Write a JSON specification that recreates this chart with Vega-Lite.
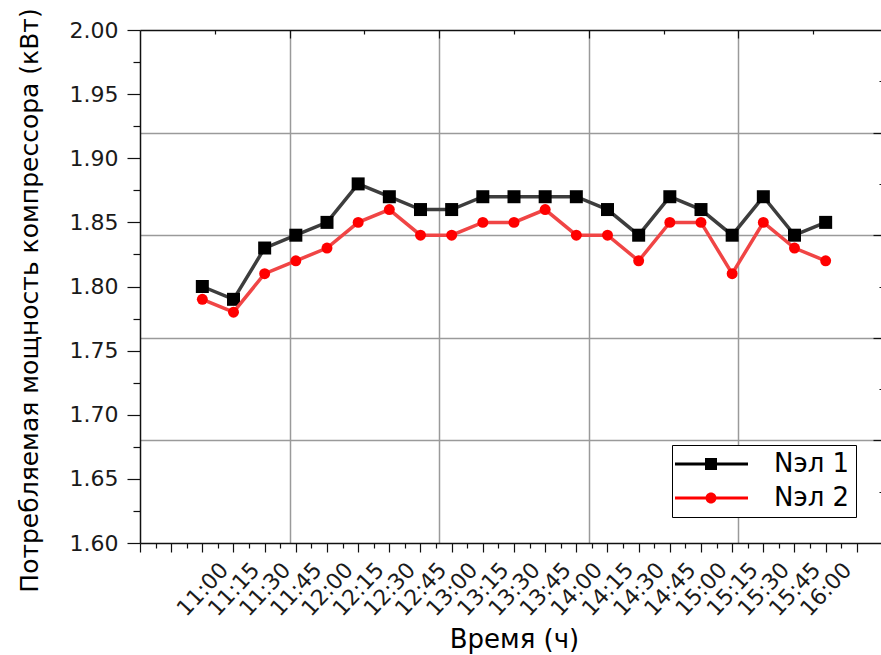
{
  "$schema": "https://vega.github.io/schema/vega-lite/v6.json",
  "width": 741,
  "height": 513,
  "autosize": {"type": "none"},
  "padding": {"left": 140, "top": 30, "right": 0, "bottom": 112},
  "background": "white",
  "config": {
    "view": {"stroke": null},
    "font": "DejaVu Sans",
    "axis": {
      "labelFont": "DejaVu Sans",
      "titleFont": "DejaVu Sans",
      "labelColor": "#1a1a1a",
      "titleColor": "#000000",
      "titleFontWeight": "normal",
      "tickColor": "#111111",
      "tickWidth": 1.2,
      "domainColor": "#111111",
      "domainWidth": 1.5
    }
  },
  "data": {
    "values": [
      {"t": "2012-01-01T11:00", "series": "Nэл 1", "p": 1.80},
      {"t": "2012-01-01T11:15", "series": "Nэл 1", "p": 1.79},
      {"t": "2012-01-01T11:30", "series": "Nэл 1", "p": 1.83},
      {"t": "2012-01-01T11:45", "series": "Nэл 1", "p": 1.84},
      {"t": "2012-01-01T12:00", "series": "Nэл 1", "p": 1.85},
      {"t": "2012-01-01T12:15", "series": "Nэл 1", "p": 1.88},
      {"t": "2012-01-01T12:30", "series": "Nэл 1", "p": 1.87},
      {"t": "2012-01-01T12:45", "series": "Nэл 1", "p": 1.86},
      {"t": "2012-01-01T13:00", "series": "Nэл 1", "p": 1.86},
      {"t": "2012-01-01T13:15", "series": "Nэл 1", "p": 1.87},
      {"t": "2012-01-01T13:30", "series": "Nэл 1", "p": 1.87},
      {"t": "2012-01-01T13:45", "series": "Nэл 1", "p": 1.87},
      {"t": "2012-01-01T14:00", "series": "Nэл 1", "p": 1.87},
      {"t": "2012-01-01T14:15", "series": "Nэл 1", "p": 1.86},
      {"t": "2012-01-01T14:30", "series": "Nэл 1", "p": 1.84},
      {"t": "2012-01-01T14:45", "series": "Nэл 1", "p": 1.87},
      {"t": "2012-01-01T15:00", "series": "Nэл 1", "p": 1.86},
      {"t": "2012-01-01T15:15", "series": "Nэл 1", "p": 1.84},
      {"t": "2012-01-01T15:30", "series": "Nэл 1", "p": 1.87},
      {"t": "2012-01-01T15:45", "series": "Nэл 1", "p": 1.84},
      {"t": "2012-01-01T16:00", "series": "Nэл 1", "p": 1.85},
      {"t": "2012-01-01T11:00", "series": "Nэл 2", "p": 1.79},
      {"t": "2012-01-01T11:15", "series": "Nэл 2", "p": 1.78},
      {"t": "2012-01-01T11:30", "series": "Nэл 2", "p": 1.81},
      {"t": "2012-01-01T11:45", "series": "Nэл 2", "p": 1.82},
      {"t": "2012-01-01T12:00", "series": "Nэл 2", "p": 1.83},
      {"t": "2012-01-01T12:15", "series": "Nэл 2", "p": 1.85},
      {"t": "2012-01-01T12:30", "series": "Nэл 2", "p": 1.86},
      {"t": "2012-01-01T12:45", "series": "Nэл 2", "p": 1.84},
      {"t": "2012-01-01T13:00", "series": "Nэл 2", "p": 1.84},
      {"t": "2012-01-01T13:15", "series": "Nэл 2", "p": 1.85},
      {"t": "2012-01-01T13:30", "series": "Nэл 2", "p": 1.85},
      {"t": "2012-01-01T13:45", "series": "Nэл 2", "p": 1.86},
      {"t": "2012-01-01T14:00", "series": "Nэл 2", "p": 1.84},
      {"t": "2012-01-01T14:15", "series": "Nэл 2", "p": 1.84},
      {"t": "2012-01-01T14:30", "series": "Nэл 2", "p": 1.82},
      {"t": "2012-01-01T14:45", "series": "Nэл 2", "p": 1.85},
      {"t": "2012-01-01T15:00", "series": "Nэл 2", "p": 1.85},
      {"t": "2012-01-01T15:15", "series": "Nэл 2", "p": 1.81},
      {"t": "2012-01-01T15:30", "series": "Nэл 2", "p": 1.85},
      {"t": "2012-01-01T15:45", "series": "Nэл 2", "p": 1.83},
      {"t": "2012-01-01T16:00", "series": "Nэл 2", "p": 1.82}
    ]
  },
  "resolve": {"axis": {"x": "independent", "y": "independent"}},
  "layer": [
    {
      "transform": [{"filter": "datum.series === 'Nэл 1'"}],
      "mark": {"type": "line", "color": "#3d3d3d", "strokeWidth": 3.5},
      "encoding": {
        "x": {
          "field": "t", "type": "temporal",
          "scale": {
            "domain": [
              {"year": 2012, "month": 1, "date": 1, "hours": 10, "minutes": 30},
              {"year": 2012, "month": 1, "date": 1, "hours": 16, "minutes": 26, "seconds": 38}
            ],
            "nice": false
          },
          "axis": {
            "orient": "bottom",
            "values": [
              {"year": 2012, "month": 1, "date": 1, "hours": 10, "minutes": 30},
              {"year": 2012, "month": 1, "date": 1, "hours": 10, "minutes": 45},
              {"year": 2012, "month": 1, "date": 1, "hours": 11, "minutes": 0},
              {"year": 2012, "month": 1, "date": 1, "hours": 11, "minutes": 15},
              {"year": 2012, "month": 1, "date": 1, "hours": 11, "minutes": 30},
              {"year": 2012, "month": 1, "date": 1, "hours": 11, "minutes": 45},
              {"year": 2012, "month": 1, "date": 1, "hours": 12, "minutes": 0},
              {"year": 2012, "month": 1, "date": 1, "hours": 12, "minutes": 15},
              {"year": 2012, "month": 1, "date": 1, "hours": 12, "minutes": 30},
              {"year": 2012, "month": 1, "date": 1, "hours": 12, "minutes": 45},
              {"year": 2012, "month": 1, "date": 1, "hours": 13, "minutes": 0},
              {"year": 2012, "month": 1, "date": 1, "hours": 13, "minutes": 15},
              {"year": 2012, "month": 1, "date": 1, "hours": 13, "minutes": 30},
              {"year": 2012, "month": 1, "date": 1, "hours": 13, "minutes": 45},
              {"year": 2012, "month": 1, "date": 1, "hours": 14, "minutes": 0},
              {"year": 2012, "month": 1, "date": 1, "hours": 14, "minutes": 15},
              {"year": 2012, "month": 1, "date": 1, "hours": 14, "minutes": 30},
              {"year": 2012, "month": 1, "date": 1, "hours": 14, "minutes": 45},
              {"year": 2012, "month": 1, "date": 1, "hours": 15, "minutes": 0},
              {"year": 2012, "month": 1, "date": 1, "hours": 15, "minutes": 15},
              {"year": 2012, "month": 1, "date": 1, "hours": 15, "minutes": 30},
              {"year": 2012, "month": 1, "date": 1, "hours": 15, "minutes": 45},
              {"year": 2012, "month": 1, "date": 1, "hours": 16, "minutes": 0},
              {"year": 2012, "month": 1, "date": 1, "hours": 16, "minutes": 15}
            ],
            "format": "%H:%M",
            "labelExpr": "datum.label === '10:30' || datum.label === '10:45' || datum.label === '16:15' ? '' : datum.label",
            "labelAngle": -47,
            "labelAlign": "center",
            "labelBaseline": "middle",
            "labelPadding": 37,
            "labelFontSize": 22,
            "labelOverlap": false,
            "labelFlush": false,
            "labelBound": false,
            "tickSize": 9,
            "grid": false,
            "title": "Время (ч)",
            "titleFontSize": 26,
            "titleY": 104,
            "titleX": 374,
            "titleBaseline": "alphabetic"
          }
        },
        "y": {
          "field": "p", "type": "quantitative",
          "scale": {"domain": [1.6, 2.0], "nice": false, "zero": false},
          "axis": {
            "orient": "left",
            "values": [1.6, 1.65, 1.7, 1.75, 1.8, 1.85, 1.9, 1.95, 2.0],
            "format": ".2f",
            "labelFontSize": 22,
            "labelPadding": 9,
            "tickSize": 13,
            "grid": false,
            "title": "Потребляемая мощность  компрессора (кВт)",
            "titleFontSize": 25,
            "titleAngle": -90,
            "titleAlign": "center",
            "titleBaseline": "alphabetic",
            "titleX": -103,
            "titleY": 270
          }
        }
      }
    },
    {
      "transform": [{"filter": "datum.series === 'Nэл 1'"}],
      "mark": {"type": "point", "shape": "square", "filled": true, "color": "#000000", "size": 169, "opacity": 1},
      "encoding": {
        "x": {
          "field": "t", "type": "temporal",
          "axis": {
            "orient": "bottom",
            "values": [
              {"year": 2012, "month": 1, "date": 1, "hours": 10, "minutes": 30},
              {"year": 2012, "month": 1, "date": 1, "hours": 10, "minutes": 45},
              {"year": 2012, "month": 1, "date": 1, "hours": 11, "minutes": 0},
              {"year": 2012, "month": 1, "date": 1, "hours": 11, "minutes": 15},
              {"year": 2012, "month": 1, "date": 1, "hours": 11, "minutes": 30},
              {"year": 2012, "month": 1, "date": 1, "hours": 11, "minutes": 45},
              {"year": 2012, "month": 1, "date": 1, "hours": 12, "minutes": 0},
              {"year": 2012, "month": 1, "date": 1, "hours": 12, "minutes": 15},
              {"year": 2012, "month": 1, "date": 1, "hours": 12, "minutes": 30},
              {"year": 2012, "month": 1, "date": 1, "hours": 12, "minutes": 45},
              {"year": 2012, "month": 1, "date": 1, "hours": 13, "minutes": 0},
              {"year": 2012, "month": 1, "date": 1, "hours": 13, "minutes": 15},
              {"year": 2012, "month": 1, "date": 1, "hours": 13, "minutes": 30},
              {"year": 2012, "month": 1, "date": 1, "hours": 13, "minutes": 45},
              {"year": 2012, "month": 1, "date": 1, "hours": 14, "minutes": 0},
              {"year": 2012, "month": 1, "date": 1, "hours": 14, "minutes": 15},
              {"year": 2012, "month": 1, "date": 1, "hours": 14, "minutes": 30},
              {"year": 2012, "month": 1, "date": 1, "hours": 14, "minutes": 45},
              {"year": 2012, "month": 1, "date": 1, "hours": 15, "minutes": 0},
              {"year": 2012, "month": 1, "date": 1, "hours": 15, "minutes": 15},
              {"year": 2012, "month": 1, "date": 1, "hours": 15, "minutes": 30},
              {"year": 2012, "month": 1, "date": 1, "hours": 15, "minutes": 45},
              {"year": 2012, "month": 1, "date": 1, "hours": 16, "minutes": 0}
            ],
            "tickOffset": 15.58,
            "labels": false,
            "domain": false,
            "tickSize": 5,
            "grid": false,
            "title": null
          }
        },
        "y": {
          "field": "p", "type": "quantitative",
          "axis": {
            "orient": "left",
            "values": [1.625, 1.675, 1.725, 1.775, 1.825, 1.875, 1.925, 1.975],
            "labels": false,
            "domain": false,
            "tickSize": 7,
            "grid": false,
            "title": null
          }
        }
      }
    },
    {
      "transform": [{"filter": "datum.series === 'Nэл 2'"}],
      "mark": {"type": "line", "color": "#f04545", "strokeWidth": 3.5},
      "encoding": {
        "x": {
          "field": "t", "type": "temporal",
          "axis": {
            "orient": "top",
            "values": [
              {"year": 2012, "month": 1, "date": 1, "hours": 11, "minutes": 42},
              {"year": 2012, "month": 1, "date": 1, "hours": 12, "minutes": 54},
              {"year": 2012, "month": 1, "date": 1, "hours": 14, "minutes": 6},
              {"year": 2012, "month": 1, "date": 1, "hours": 15, "minutes": 18}
            ],
            "labels": false,
            "ticks": false,
            "grid": true,
            "gridColor": "#9a9a9a",
            "gridWidth": 1.5,
            "title": null
          }
        },
        "y": {
          "field": "p", "type": "quantitative",
          "axis": {
            "orient": "right",
            "values": [1.68, 1.76, 1.84, 1.92],
            "labels": false,
            "domain": false,
            "ticks": false,
            "grid": true,
            "gridColor": "#9a9a9a",
            "gridWidth": 1.5,
            "title": null
          }
        }
      }
    },
    {
      "transform": [{"filter": "datum.series === 'Nэл 2'"}],
      "mark": {"type": "point", "shape": "circle", "filled": true, "color": "#ff0000", "size": 120, "opacity": 1},
      "encoding": {
        "x": {
          "field": "t", "type": "temporal",
          "axis": {
            "orient": "top",
            "offset": -8,
            "values": [
              {"year": 2012, "month": 1, "date": 1, "hours": 11, "minutes": 42},
              {"year": 2012, "month": 1, "date": 1, "hours": 12, "minutes": 54},
              {"year": 2012, "month": 1, "date": 1, "hours": 14, "minutes": 6},
              {"year": 2012, "month": 1, "date": 1, "hours": 15, "minutes": 18}
            ],
            "labels": false,
            "domain": false,
            "tickSize": 8,
            "grid": false,
            "title": null
          }
        },
        "y": {
          "field": "p", "type": "quantitative",
          "axis": {
            "orient": "right",
            "offset": -8,
            "values": [1.68, 1.76, 1.84, 1.92],
            "labels": false,
            "domain": false,
            "tickSize": 8,
            "grid": false,
            "title": null
          }
        }
      }
    },
    {
      "transform": [{"filter": "false"}],
      "mark": {"type": "point", "filled": true, "size": 576, "opacity": 1, "strokeWidth": 0},
      "encoding": {
        "x": {
          "field": "t", "type": "temporal",
          "axis": {
            "orient": "top",
            "offset": -4,
            "values": [
              {"year": 2012, "month": 1, "date": 1, "hours": 11, "minutes": 6},
              {"year": 2012, "month": 1, "date": 1, "hours": 12, "minutes": 18},
              {"year": 2012, "month": 1, "date": 1, "hours": 13, "minutes": 30},
              {"year": 2012, "month": 1, "date": 1, "hours": 14, "minutes": 42},
              {"year": 2012, "month": 1, "date": 1, "hours": 15, "minutes": 54}
            ],
            "labels": false,
            "domain": false,
            "tickSize": 4,
            "grid": false,
            "title": null
          }
        },
        "y": {
          "field": "p", "type": "quantitative",
          "axis": {
            "orient": "right",
            "offset": -2,
            "values": [1.64, 1.72, 1.8, 1.88, 1.96],
            "labels": false,
            "domain": false,
            "tickSize": 2,
            "grid": false,
            "title": null
          }
        },
        "color": {
          "field": "series", "type": "nominal",
          "scale": {"domain": ["Nэл 1", "Nэл 2"], "range": ["#000000", "#ff0000"]},
          "legend": {
            "title": null, "orient": "none", "legendX": 532, "legendY": 415,
            "padding": 6, "strokeColor": "#000000", "fillColor": "#ffffff",
            "symbolSize": 576, "symbolStrokeWidth": 0,
            "labelFont": "DejaVu Sans", "labelFontSize": 26, "labelColor": "#000000",
            "labelOffset": 70, "rowPadding": 8
          }
        },
        "shape": {
          "field": "series", "type": "nominal",
          "scale": {
            "domain": ["Nэл 1", "Nэл 2"],
            "range": [
              "M-1.333,-0.125H4.75V0.125H-1.333Z M1.167,-0.5H2.167V0.5H1.167Z",
              "M-1.333,-0.125H4.75V0.125H-1.333Z M1.209,0A0.458,0.458 0 1,1 2.125,0A0.458,0.458 0 1,1 1.209,0Z"
            ]
          },
          "legend": {
            "title": null, "orient": "none", "legendX": 532, "legendY": 415,
            "padding": 6, "strokeColor": "#000000", "fillColor": "#ffffff",
            "symbolSize": 576, "symbolStrokeWidth": 0,
            "labelFont": "DejaVu Sans", "labelFontSize": 26, "labelColor": "#000000",
            "labelOffset": 70, "rowPadding": 8
          }
        }
      }
    }
  ]
}
